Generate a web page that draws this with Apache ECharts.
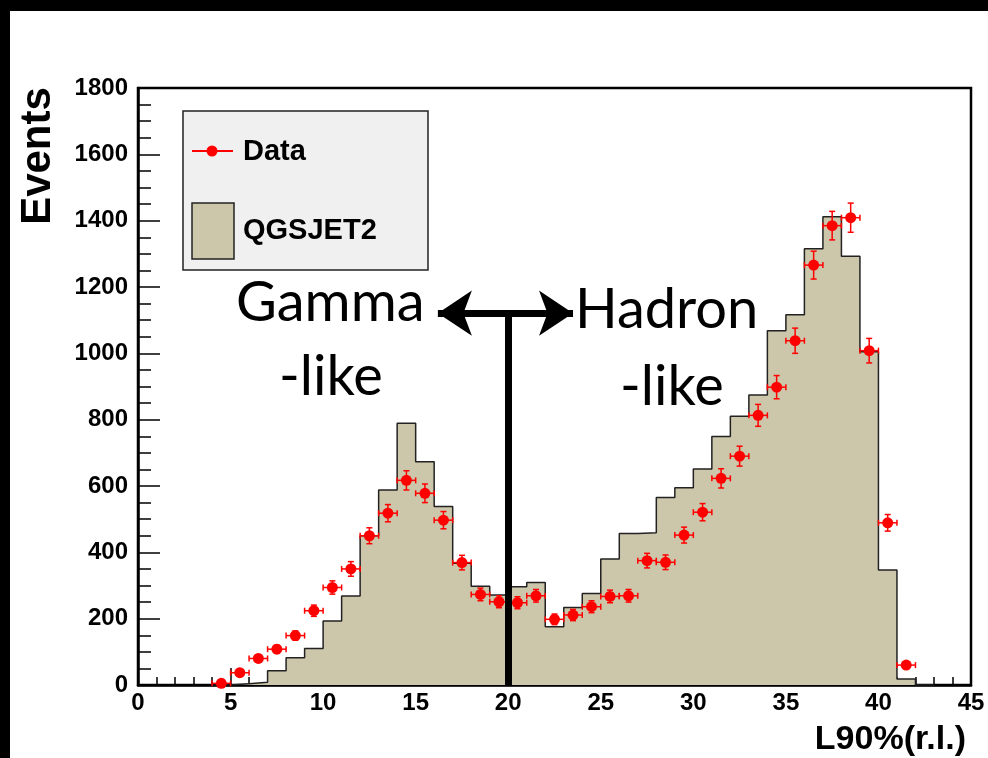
<!DOCTYPE html>
<html>
<head>
<meta charset="utf-8">
<script src="https://cdn.jsdelivr.net/npm/echarts@6/dist/echarts.min.js"></script>
<style>
  html, body { margin: 0; padding: 0; background: #fff; }
  #chart { width: 988px; height: 758px; }
</style>
</head>
<body>
<div id="chart"></div>
<script>
  // QGSJET2 histogram, low edge of each 1 r.l. bin
  const histLow = [4, 5, 6, 7, 8, 9, 10, 11, 12, 13, 14, 15, 16, 17, 18, 19, 20, 21, 22, 23, 24, 25, 26, 27, 28, 29, 30, 31, 32, 33, 34, 35, 36, 37, 38, 39, 40, 41, 42, 43]
  const histValues = [0, 4, 8, 43, 82, 110, 193, 268, 450, 588, 789, 673, 538, 367, 298, 271, 296, 309, 176, 234, 276, 380, 457, 459, 565, 595, 651, 749, 810, 874, 1068, 1116, 1315, 1412, 1293, 1005, 347, 18, 0, 0]

  // measured data, bin centres
  const dataX = [4.5, 5.5, 6.5, 7.5, 8.5, 9.5, 10.5, 11.5, 12.5, 13.5, 14.5, 15.5, 16.5, 17.5, 18.5, 19.5, 20.5, 21.5, 22.5, 23.5, 24.5, 25.5, 26.5, 27.5, 28.5, 29.5, 30.5, 31.5, 32.5, 33.5, 34.5, 35.5, 36.5, 37.5, 38.5, 39.5, 40.5, 41.5]
  const dataY = [5, 37, 80, 108, 149, 224, 294, 350, 450, 518, 617, 578, 497, 369, 273, 251, 248, 269, 198, 211, 236, 267, 269, 375, 370, 452, 521, 623, 690, 813, 898, 1038, 1266, 1385, 1409, 1008, 489, 60]
  const dataErr = [5, 9, 11, 12, 14, 17, 20, 22, 24, 26, 29, 28, 26, 22, 19, 18, 18, 19, 16, 17, 18, 19, 19, 22, 22, 24, 26, 29, 30, 33, 35, 38, 42, 43, 44, 37, 25, 9]

  const xTicks = { min: 0, max: 45, interval: 5 }
  const yTicks = { min: 0, max: 1800, interval: 200 }

  const tan = '#ccc6aa'
  const red = '#ff0000'
  const labelFont = 'Liberation Sans, Arial, sans-serif'
  const noteFont = 'Lato, Open Sans, sans-serif'

  const chart = echarts.init(document.getElementById('chart'))

  const histData = histLow.map((x, i) => [x, histValues[i]])
  const pointData = dataX.map((x, i) => [x, dataY[i], dataErr[i]])

  function renderPoint (params, api) {
    const x = api.value(0)
    const y = api.value(1)
    const e = api.value(2)
    const c = api.coord([x, y])
    const l = api.coord([x - 0.5, y])
    const r = api.coord([x + 0.5, y])
    const t = api.coord([x, y + e])
    const b = api.coord([x, Math.max(y - e, 0)])
    const style = { stroke: red, lineWidth: 1.5 }
    const cap = 3
    return {
      type: 'group',
      children: [
        { type: 'line', shape: { x1: l[0], y1: c[1], x2: r[0], y2: c[1] }, style },
        { type: 'line', shape: { x1: l[0], y1: c[1] - cap, x2: l[0], y2: c[1] + cap }, style },
        { type: 'line', shape: { x1: r[0], y1: c[1] - cap, x2: r[0], y2: c[1] + cap }, style },
        { type: 'line', shape: { x1: c[0], y1: t[1], x2: c[0], y2: b[1] }, style },
        { type: 'line', shape: { x1: c[0] - cap, y1: t[1], x2: c[0] + cap, y2: t[1] }, style },
        { type: 'line', shape: { x1: c[0] - cap, y1: b[1], x2: c[0] + cap, y2: b[1] }, style },
        { type: 'circle', shape: { cx: c[0], cy: c[1], r: 5.5 }, style: { fill: red } }
      ]
    }
  }

  const axisText = { color: '#000', fontFamily: labelFont, fontWeight: 'bold', fontSize: 24, formatter: v => String(v) }

  chart.setOption({
    animation: false,
    backgroundColor: '#fff',
    grid: {
      left: 138,
      right: 17,
      top: 88,
      bottom: 73,
      show: true,
      borderColor: '#000',
      borderWidth: 2.5,
      backgroundColor: 'transparent'
    },
    xAxis: {
      type: 'value',
      min: xTicks.min,
      max: xTicks.max,
      interval: xTicks.interval,
      axisLine: { lineStyle: { color: '#000', width: 2.5 } },
      axisTick: { inside: true, length: 17, lineStyle: { color: '#000', width: 1.5 } },
      minorTick: { show: true, splitNumber: 5, length: 8, lineStyle: { color: '#000', width: 1.5 } },
      splitLine: { show: false },
      axisLabel: Object.assign({ margin: 6 }, axisText)
    },
    yAxis: {
      type: 'value',
      min: yTicks.min,
      max: yTicks.max,
      interval: yTicks.interval,
      axisLine: { show: true, lineStyle: { color: '#000', width: 2.5 } },
      axisTick: { show: true, inside: true, length: 22, lineStyle: { color: '#000', width: 1.5 } },
      minorTick: { show: true, splitNumber: 4, length: 13, lineStyle: { color: '#000', width: 1.5 } },
      splitLine: { show: false },
      axisLabel: Object.assign({ margin: 10 }, axisText)
    },
    series: [
      {
        name: 'QGSJET2',
        type: 'line',
        step: 'end',
        data: histData,
        showSymbol: false,
        z: 2,
        lineStyle: { color: '#222', width: 1.5 },
        areaStyle: { color: tan, opacity: 1 }
      },
      {
        name: 'Data',
        type: 'custom',
        data: pointData,
        z: 3,
        renderItem: renderPoint
      },
      {
        name: 'cut',
        type: 'line',
        data: [],
        z: 5,
        markLine: {
          silent: true,
          animation: false,
          label: { show: false },
          data: [
            [
              { coord: [20, 0], symbol: 'none' },
              { coord: [20, 1121], symbol: 'none' }
            ],
            [
              { coord: [16.2, 1121], symbol: 'arrow', symbolSize: [34, 34] },
              { coord: [23.5, 1121], symbol: 'arrow', symbolSize: [34, 34] }
            ]
          ],
          lineStyle: { color: '#000', width: 7, type: 'solid' },
          itemStyle: { color: '#000' }
        }
      }
    ],
    graphic: [
      { type: 'rect', shape: { x: 0, y: 0, width: 988, height: 11 }, style: { fill: '#000' }, z: 100 },
      { type: 'rect', shape: { x: 0, y: 0, width: 10, height: 758 }, style: { fill: '#000' }, z: 100 },
      {
        type: 'text',
        x: 38,
        y: 156,
        rotation: Math.PI / 2,
        style: { text: 'Events', fontFamily: labelFont, fontWeight: 'bold', fontSize: 42, fill: '#000', align: 'center', verticalAlign: 'middle' }
      },
      {
        type: 'text',
        x: 966,
        y: 740,
        style: { text: 'L90%(r.l.)', fontFamily: labelFont, fontWeight: 'bold', fontSize: 34, fill: '#000', align: 'right', verticalAlign: 'middle' }
      },
      // legend box
      { type: 'rect', shape: { x: 183, y: 111, width: 245, height: 159 }, style: { fill: '#f0f0f0', stroke: '#222', lineWidth: 1.5 }, z: 50 },
      { type: 'line', shape: { x1: 192, y1: 151, x2: 233, y2: 151 }, style: { stroke: red, lineWidth: 2 }, z: 51 },
      { type: 'circle', shape: { cx: 212, cy: 151, r: 5.5 }, style: { fill: red }, z: 51 },
      {
        type: 'text', x: 243, y: 152, z: 51,
        style: { text: 'Data', fontFamily: labelFont, fontWeight: 'bold', fontSize: 29, fill: '#000', verticalAlign: 'middle' }
      },
      { type: 'rect', shape: { x: 192, y: 203, width: 42, height: 56 }, style: { fill: tan, stroke: '#222', lineWidth: 1.5 }, z: 51 },
      {
        type: 'text', x: 243, y: 231, z: 51,
        style: { text: 'QGSJET2', fontFamily: labelFont, fontWeight: 'bold', fontSize: 29, fill: '#000', verticalAlign: 'middle' }
      },
      // annotations
      { type: 'text', x: 236, y: 303, z: 60, style: { text: 'Gamma', fontFamily: noteFont, fontSize: 56, fill: '#000', verticalAlign: 'middle' } },
      { type: 'text', x: 279, y: 377, z: 60, style: { text: '-like', fontFamily: noteFont, fontSize: 56, fill: '#000', verticalAlign: 'middle' } },
      { type: 'text', x: 575, y: 310, z: 60, style: { text: 'Hadron', fontFamily: noteFont, fontSize: 56, fill: '#000', verticalAlign: 'middle' } },
      { type: 'text', x: 620, y: 387, z: 60, style: { text: '-like', fontFamily: noteFont, fontSize: 56, fill: '#000', verticalAlign: 'middle' } }
    ]
  })
</script>
</body>
</html>
